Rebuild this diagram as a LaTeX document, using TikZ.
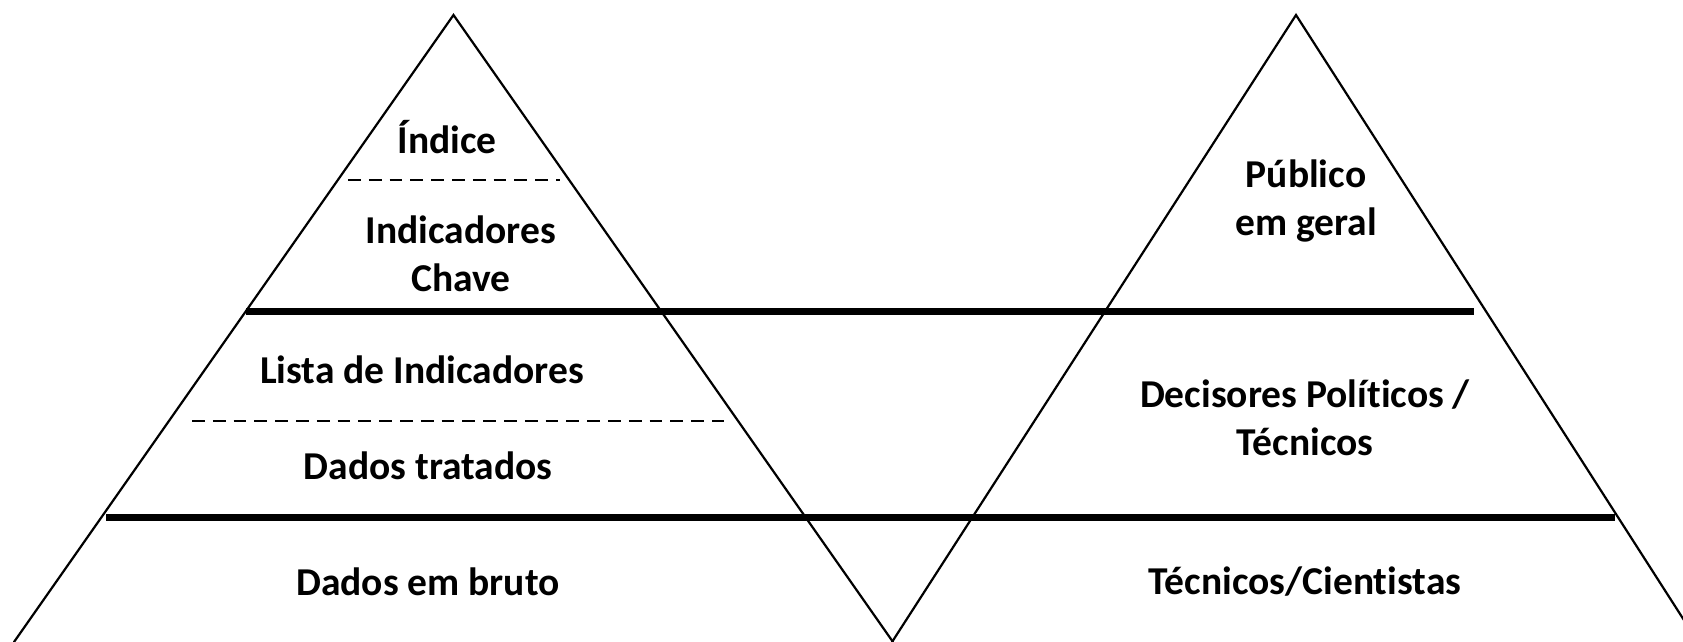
\documentclass[tikz,border=0pt]{standalone}
\usepackage{fontspec}
\setmainfont{Carlito}[Ligatures=NoCommon]
\begin{document}
\begin{tikzpicture}[x=1pt,y=-1pt,
  side/.style={line width=2.2pt,line cap=round},
  sepline/.style={line width=7pt},
  dashline/.style={line width=2.7pt,dash pattern=on 12.7pt off 8.1pt},
  lbl/.style={font=\fontsize{39.5}{47.5}\selectfont\bfseries,align=center,inner sep=0pt}]
\useasboundingbox (0,0) rectangle (1683,642);
\clip (0,0) rectangle (1683,642);
% left pyramid
\coordinate (LA) at (453.5,15);
\coordinate (LL) at (14,642);
\coordinate (LR) at (893,642);
% right pyramid
\coordinate (RA) at (1296,15);
\coordinate (RL) at (892,642);
\coordinate (RR) at (1698,642);
\draw[side] (LL) -- (LA) -- (LR);
\draw[side] (RL) -- (RA) -- (RR);
% thick separators
\coordinate (s1a) at (246,311);
\coordinate (s1b) at (1474,311);
\coordinate (s2a) at (106,517);
\coordinate (s2b) at (1615,517);
\draw[sepline] (s1a) -- (s1b);
\draw[sepline] (s2a) -- (s2b);
% dashed separators
\coordinate (d1a) at (348,180);
\coordinate (d1b) at (560,180);
\coordinate (d2a) at (192,421);
\coordinate (d2b) at (724,421);
\draw[dashline] (d1a) -- (d1b);
\draw[dashline] (d2a) -- (d2b);
% labels
\node[lbl] (indice) at (447,137) {Índice};
\node[lbl] (indchave) at (461,254) {Indicadores\\Chave};
\node[lbl] (lista) at (422,370) {Lista de Indicadores};
\node[lbl] (tratados) at (428,466) {Dados tratados};
\node[lbl] (bruto) at (428,582) {Dados em bruto};
\node[lbl] (publico) at (1306,201) {Público\\em geral};
\node[lbl] (decisores) at (1305,418) {Decisores Políticos /\\Técnicos};
\node[lbl] (tecnicos) at (1305,582) {Técnicos/Cientistas};
\end{tikzpicture}
\end{document}
